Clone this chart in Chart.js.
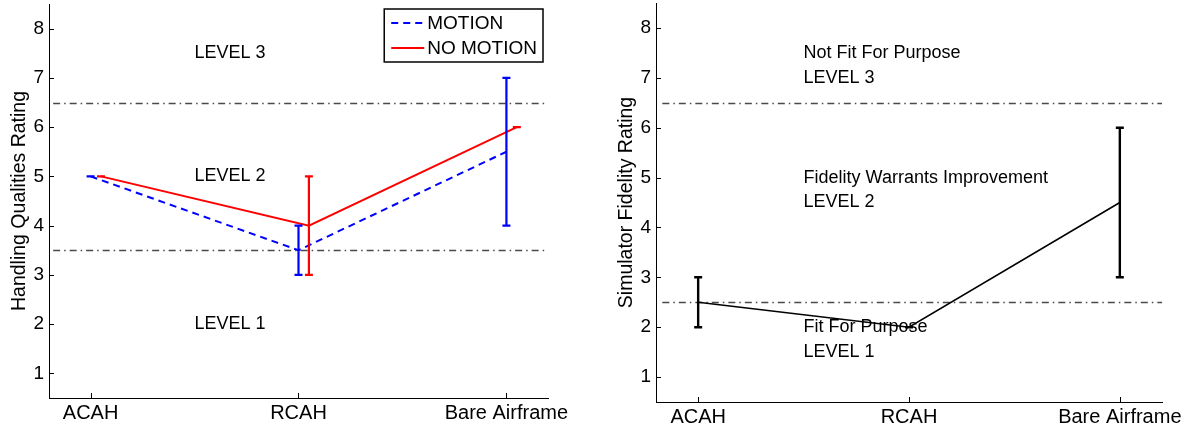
<!DOCTYPE html>
<html>
<head>
<meta charset="utf-8">
<script src="https://cdn.jsdelivr.net/npm/chart.js@4.4.1/dist/chart.umd.min.js"></script>
<style>
  html, body { margin: 0; padding: 0; background: #fff; }
  .panel { position: absolute; top: 0; height: 431px; }
  #hqPanel { left: 0; width: 595px; }
  #sfPanel { left: 595px; width: 594px; }
</style>
</head>
<body>
<div class="panel" id="hqPanel"><canvas id="hqChart"></canvas></div>
<div class="panel" id="sfPanel"><canvas id="sfChart"></canvas></div>
<script>
// Configurations flown
const configs = ['ACAH', 'RCAH', 'Bare Airframe'];
const ratingTicks = [1, 2, 3, 4, 5, 6, 7, 8];

// Handling qualities ratings: mean with min / max spread
const hqMotion = [5, 3.5, 5.5];
const hqMotionLow = [5, 3, 4];
const hqMotionHigh = [5, 4, 7];
const hqNoMotion = [5, 4, 6];
const hqNoMotionLow = [5, 3, 6];
const hqNoMotionHigh = [5, 5, 6];
const hqBoundaries = [3.5, 6.5];

// Simulator fidelity ratings
const sfr = [2.5, 2, 4.5];
const sfrLow = [2, 2, 3];
const sfrHigh = [3, 2, 6];
const sfrBoundaries = [2.5, 6.5];

const FONT = 'Liberation Sans, Arial, Helvetica, sans-serif';
const FONT_SIZE = 18;
const LEGEND_SIZE = 19;
Chart.defaults.font.family = FONT;
Chart.defaults.font.size = FONT_SIZE;
Chart.defaults.color = '#000';

// small sideways shift so the no-motion bars don't sit on the motion ones
const dodge = 0.05;

function points(values, shift) {
    return values.map((v, i) => ({ x: i + 1 + shift, y: v }));
}

// min/max whiskers with caps
const errorBars = {
    id: 'errorBars',
    afterDatasetsDraw(chart) {
        const ctx = chart.ctx;
        const y = chart.scales.y;
        chart.data.datasets.forEach((ds, i) => {
            if (!ds.errLow) return;
            const meta = chart.getDatasetMeta(i);
            const hw = ds.capHalf || 4;
            ctx.save();
            ctx.strokeStyle = ds.borderColor;
            ctx.lineWidth = ds.errWidth || 2;
            ctx.setLineDash([]);
            meta.data.forEach((pt, j) => {
                const top = y.getPixelForValue(ds.errHigh[j]);
                const bot = y.getPixelForValue(ds.errLow[j]);
                ctx.beginPath();
                ctx.moveTo(pt.x, top);
                ctx.lineTo(pt.x, bot);
                ctx.moveTo(pt.x - hw, top);
                ctx.lineTo(pt.x + hw, top);
                ctx.moveTo(pt.x - hw, bot);
                ctx.lineTo(pt.x + hw, bot);
                ctx.stroke();
            });
            ctx.restore();
        });
    }
};

// dash-dot level boundaries and the region captions
const levels = {
    id: 'levels',
    beforeDatasetsDraw(chart, args, opts) {
        const { ctx, scales: { x, y } } = chart;
        ctx.save();
        ctx.strokeStyle = '#4a4a4a';
        ctx.lineWidth = 1.3;
        ctx.setLineDash([7, 4, 1.5, 4]);
        opts.lines.forEach(v => {
            const py = Math.round(y.getPixelForValue(v)) + 0.5;
            ctx.beginPath();
            ctx.moveTo(x.getPixelForValue(opts.from), py);
            ctx.lineTo(x.right, py);
            ctx.stroke();
        });
        ctx.restore();
    },
    afterDatasetsDraw(chart, args, opts) {
        const { ctx, scales: { x, y } } = chart;
        ctx.save();
        ctx.font = FONT_SIZE + 'px ' + FONT;
        ctx.fillStyle = '#000';
        ctx.textAlign = 'left';
        ctx.textBaseline = 'middle';
        opts.labels.forEach(l => {
            ctx.fillText(l.text, x.getPixelForValue(l.x), y.getPixelForValue(l.y));
        });
        ctx.restore();
    }
};

// tick marks pointing into the plot
const innerTicks = {
    id: 'innerTicks',
    afterDraw(chart) {
        const { ctx, scales: { x, y } } = chart;
        ctx.save();
        ctx.strokeStyle = '#000';
        ctx.lineWidth = 1;
        ctx.beginPath();
        x.ticks.forEach(t => {
            const px = Math.round(x.getPixelForValue(t.value)) + 0.5;
            ctx.moveTo(px, x.top);
            ctx.lineTo(px, x.top - 5);
        });
        y.ticks.forEach(t => {
            const py = Math.round(y.getPixelForValue(t.value)) + 0.5;
            ctx.moveTo(y.right, py);
            ctx.lineTo(y.right + 5, py);
        });
        ctx.stroke();
        ctx.restore();
    }
};

// boxed legend in the top right corner
const boxLegend = {
    id: 'boxLegend',
    afterDraw(chart) {
        const { ctx, chartArea } = chart;
        const sets = chart.data.datasets.filter(d => d.label);
        ctx.save();
        ctx.font = LEGEND_SIZE + 'px ' + FONT;
        const textW = Math.max(...sets.map(d => ctx.measureText(d.label).width));
        const w = 7 + 33 + 3 + textW + 6;
        const h = 53;
        const left = chartArea.right - 5 - w;
        const top = chartArea.top + 5;
        ctx.fillStyle = '#fff';
        ctx.fillRect(left, top, w, h);
        ctx.strokeStyle = '#000';
        ctx.lineWidth = 1.5;
        ctx.strokeRect(left, top, w, h);
        sets.forEach((d, i) => {
            const cy = top + 14 + i * 25;
            ctx.strokeStyle = d.borderColor;
            ctx.lineWidth = d.borderWidth;
            ctx.setLineDash(d.borderDash || []);
            ctx.beginPath();
            ctx.moveTo(left + 7, cy);
            ctx.lineTo(left + 40, cy);
            ctx.stroke();
            ctx.setLineDash([]);
            ctx.fillStyle = '#000';
            ctx.textBaseline = 'middle';
            ctx.fillText(d.label, left + 43, cy + 1);
        });
        ctx.restore();
    }
};

function scaleOptions(yTitle, yWidth, xHeight, titlePad) {
    return {
        x: {
            type: 'linear',
            min: 0.8,
            max: 3.2,
            grid: { display: false, drawTicks: false },
            border: { display: true, color: '#000', width: 1 },
            afterBuildTicks: s => { s.ticks = configs.map((c, i) => ({ value: i + 1 })); },
            afterFit: s => {
                s.height = xHeight;
                s.paddingLeft = 0;
                s.paddingRight = 0;
            },
            ticks: {
                padding: 3,
                maxRotation: 0,
                autoSkip: false,
                font: { size: 20 },
                callback: v => configs[v - 1]
            }
        },
        y: {
            type: 'linear',
            min: 0.5,
            max: 8.5,
            grid: { display: false, drawTicks: false },
            border: { display: true, color: '#000', width: 1 },
            afterBuildTicks: s => { s.ticks = ratingTicks.map(v => ({ value: v })); },
            afterFit: s => {
                s.width = yWidth;
                s.paddingTop = 0;
                s.paddingBottom = 0;
            },
            ticks: { padding: 5, font: { size: 19 }, callback: v => v },
            title: {
                display: true,
                text: yTitle,
                font: { size: 19.5 },
                padding: { top: titlePad, bottom: 0 }
            }
        }
    };
}

function createHandlingQualitiesChart() {
    const ctx = document.getElementById('hqChart');
    new Chart(ctx, {
        type: 'line',
        data: {
            datasets: [{
                label: 'MOTION',
                data: points(hqMotion, 0),
                borderColor: '#0000ff',
                borderWidth: 2,
                borderDash: [7, 5],
                pointRadius: 0,
                errLow: hqMotionLow,
                errHigh: hqMotionHigh,
                errWidth: 2.2,
                capHalf: 4
            }, {
                label: 'NO MOTION',
                data: points(hqNoMotion, dodge),
                borderColor: '#ff0000',
                borderWidth: 2,
                pointRadius: 0,
                errLow: hqNoMotionLow,
                errHigh: hqNoMotionHigh,
                errWidth: 2.2,
                capHalf: 4
            }]
        },
        options: {
            responsive: true,
            maintainAspectRatio: false,
            animation: false,
            layout: { padding: { left: 0, right: 47, top: 4, bottom: 0 } },
            plugins: {
                legend: { display: false },
                tooltip: { enabled: false },
                levels: {
                    from: 0.82,
                    lines: hqBoundaries,
                    labels: [
                        { text: 'LEVEL 3', x: 1.5, y: 7.5 },
                        { text: 'LEVEL 2', x: 1.5, y: 5 },
                        { text: 'LEVEL 1', x: 1.5, y: 2 }
                    ]
                }
            },
            scales: scaleOptions('Handling Qualities Rating', 49, 33, 8)
        },
        plugins: [levels, errorBars, innerTicks, boxLegend]
    });
}

function createFidelityChart() {
    const ctx = document.getElementById('sfChart');
    new Chart(ctx, {
        type: 'line',
        data: {
            datasets: [{
                data: points(sfr, 0),
                borderColor: '#000',
                borderWidth: 1.6,
                pointRadius: 0,
                errLow: sfrLow,
                errHigh: sfrHigh,
                errWidth: 2.4,
                capHalf: 4
            }]
        },
        options: {
            responsive: true,
            maintainAspectRatio: false,
            animation: false,
            layout: { padding: { left: 0, right: 27, top: 3, bottom: 0 } },
            plugins: {
                legend: { display: false },
                tooltip: { enabled: false },
                levels: {
                    from: 0.83,
                    lines: sfrBoundaries,
                    labels: [
                        { text: 'Not Fit For Purpose', x: 1.5, y: 7.5 },
                        { text: 'LEVEL 3', x: 1.5, y: 7 },
                        { text: 'Fidelity Warrants Improvement', x: 1.5, y: 5 },
                        { text: 'LEVEL 2', x: 1.5, y: 4.5 },
                        { text: 'Fit For Purpose', x: 1.5, y: 2 },
                        { text: 'LEVEL 1', x: 1.5, y: 1.5 }
                    ]
                }
            },
            scales: scaleOptions('Simulator Fidelity Rating', 61, 29, 20)
        },
        plugins: [levels, errorBars, innerTicks]
    });
}

createHandlingQualitiesChart();
createFidelityChart();
</script>
</body>
</html>
